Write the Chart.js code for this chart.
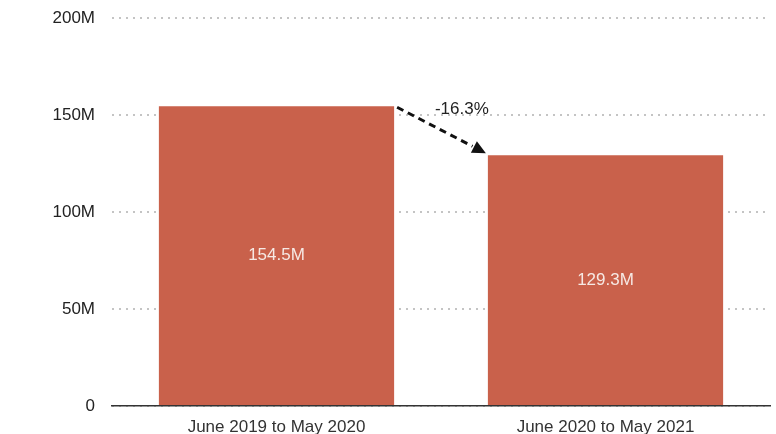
<!DOCTYPE html>
<html>
<head>
<meta charset="utf-8">
<script src="https://cdn.jsdelivr.net/npm/chart.js@4.4.1/dist/chart.umd.min.js"></script>
<style>
    html, body { margin: 0; padding: 0; background: #fff; }
    #wrap { width: 776px; height: 434px; }
</style>
</head>
<body>
<div id="wrap"><canvas id="myChart"></canvas></div>
<script>
const periods = ['June 2019 to May 2020', 'June 2020 to May 2021'];
const revenue = [154.5, 129.3];
const yTicks = [0, 50, 100, 150, 200];

const barColor = '#c9614b';
const font = { family: "'Liberation Sans', Arial, sans-serif", size: 17 };

// value labels in the middle of each bar
const barLabels = {
    id: 'barLabels',
    afterDatasetsDraw(chart) {
        const ctx = chart.ctx;
        const meta = chart.getDatasetMeta(0);
        ctx.save();
        ctx.font = `${font.size}px ${font.family}`;
        ctx.fillStyle = '#f6e9e4';
        ctx.textAlign = 'center';
        ctx.textBaseline = 'middle';
        meta.data.forEach((bar, i) => {
            ctx.fillText(revenue[i] + 'M', bar.x, (bar.y + bar.base) / 2);
        });
        ctx.restore();
    }
};

// dashed arrow with the change between the two bars
const changeArrow = {
    id: 'changeArrow',
    afterDatasetsDraw(chart) {
        const ctx = chart.ctx;
        const meta = chart.getDatasetMeta(0);
        const a = meta.data[0];
        const b = meta.data[1];
        const x1 = a.x + a.width / 2 + 3;
        const y1 = a.y + 1;
        const x2 = b.x - b.width / 2 - 2;
        const y2 = b.y - 2;
        const ang = Math.atan2(y2 - y1, x2 - x1);
        const head = 15;

        ctx.save();
        ctx.strokeStyle = '#111';
        ctx.fillStyle = '#111';
        ctx.lineWidth = 3;
        ctx.setLineDash([7, 5]);
        ctx.beginPath();
        ctx.moveTo(x1, y1);
        ctx.lineTo(x2 - Math.cos(ang) * head, y2 - Math.sin(ang) * head);
        ctx.stroke();
        ctx.setLineDash([]);
        ctx.beginPath();
        ctx.moveTo(x2, y2);
        ctx.lineTo(x2 - Math.cos(ang - 0.45) * head, y2 - Math.sin(ang - 0.45) * head);
        ctx.lineTo(x2 - Math.cos(ang + 0.45) * head, y2 - Math.sin(ang + 0.45) * head);
        ctx.closePath();
        ctx.fill();

        const pct = ((revenue[1] - revenue[0]) / revenue[0] * 100).toFixed(1);
        ctx.font = `${font.size}px ${font.family}`;
        ctx.fillStyle = '#222';
        ctx.textAlign = 'center';
        ctx.textBaseline = 'middle';
        ctx.fillText(pct + '%', x2 - 24, a.y + 3);
        ctx.restore();
    }
};

new Chart(document.querySelector('#myChart'), {
    type: 'bar',
    data: {
        labels: periods,
        datasets: [
            {
                data: revenue,
                backgroundColor: barColor,
                categoryPercentage: 1,
                barPercentage: 0.715,
            },
        ],
    },
    options: {
        responsive: true,
        maintainAspectRatio: false,
        animation: false,
        layout: {
            padding: { top: 18, right: 6, left: 0, bottom: 0 }
        },
        scales: {
            y: {
                min: 0,
                max: 200,
                afterBuildTicks: (scale) => {
                    scale.ticks = yTicks.map(v => ({ value: v }));
                },
                afterFit: (scale) => {
                    scale.width = 112;
                    scale.paddingTop = 0;
                    scale.paddingBottom = 0;
                },
                border: { display: false, dash: [2, 5] },
                grid: {
                    color: '#c4c4c4',
                    lineWidth: 2,
                    drawTicks: false,
                },
                ticks: {
                    color: '#222',
                    font,
                    padding: 17,
                    callback: (v) => v === 0 ? '0' : v + 'M',
                }
            },
            x: {
                afterFit: (scale) => {
                    scale.height = 28;
                },
                border: { display: true, color: '#333', width: 1.5 },
                grid: { display: false },
                ticks: {
                    color: '#333',
                    font,
                    padding: 3,
                }
            }
        },
        plugins: {
            legend: { display: false },
            tooltip: { enabled: false }
        }
    },
    plugins: [barLabels, changeArrow]
});
</script>
</body>
</html>
